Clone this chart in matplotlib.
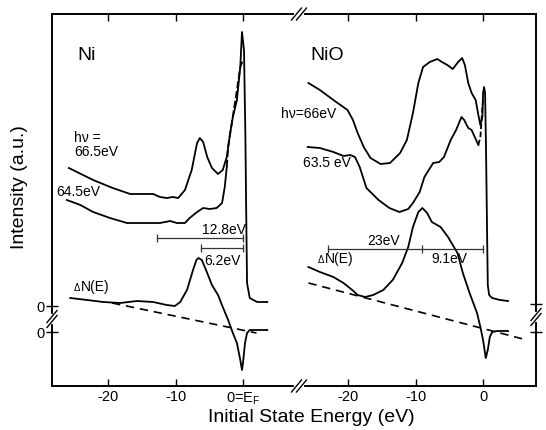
import numpy as np
import matplotlib
matplotlib.use("Agg")
import matplotlib.pyplot as plt
from matplotlib.lines import Line2D

plt.rcParams['font.family'] = ['Liberation Sans', 'DejaVu Sans']
plt.rcParams['mathtext.fontset'] = 'custom'
plt.rcParams['mathtext.rm'] = 'Liberation Sans'
plt.rcParams['mathtext.it'] = 'Liberation Sans:italic'

# ---- data (energy in eV, intensity in a.u.) ----
# Ni, h nu = 66.5 eV
ni_665_e = [-25.8, -22.2, -19.3, -16.7, -13.3, -12.3, -11.3, -10.4, -9.6, -8.6,
            -7.6, -7.1, -6.8, -6.4, -5.9, -5.3, -4.6, -3.7, -3.0, -2.4, -1.9,
            -1.5, -0.9, -0.4, -0.15, 0.15, 0.35, 0.5, 0.6, 1.0, 2.1, 3.6]
ni_665_i = [13.7, 12.5, 11.7, 11.1, 11.1, 10.8, 10.7, 10.8, 10.7, 11.5,
            13.5, 15.2, 16.2, 16.7, 16.3, 14.8, 13.7, 13.1, 13.5, 14.8, 17.2,
            18.8, 20.5, 23.8, 27.3, 25.5, 17.2, 8.0, 2.2, 0.7, 0.3, 0.3]
# Ni, h nu = 64.5 eV
ni_645_e = [-26.1, -24.1, -22.2, -19.7, -17.2, -14.2, -12.3, -10.8, -9.8, -8.6,
            -7.9, -6.8, -5.9, -4.9, -3.9, -3.1, -2.7, -2.4]
ni_645_i = [10.5, 10.0, 9.3, 8.7, 8.2, 8.2, 8.2, 8.4, 8.2, 8.2,
            8.7, 9.3, 9.7, 9.6, 9.7, 10.2, 11.8, 13.8]
ni_645_dash_e = [-2.4, -2.2, -0.9, -0.4, 0.0]
ni_645_dash_i = [13.8, 15.8, 21.5, 23.8, 24.5]
# Ni, difference spectrum
ni_dn_e = [-25.6, -23.1, -20.7, -18.2, -15.7, -13.3, -11.3, -10.1, -9.3, -8.3,
           -7.4, -6.9, -6.6, -6.1, -5.3, -4.6, -3.7, -3.0, -2.2, -1.5, -0.9,
           -0.4, -0.15, 0.0, 0.3, 0.6, 1.0, 2.5, 3.6]
ni_dn_i = [3.4, 3.2, 3.0, 2.9, 3.1, 3.0, 2.7, 2.6, 3.0, 4.2,
           6.2, 7.2, 7.4, 7.2, 5.9, 4.7, 3.7, 2.5, 1.2, -0.1, -1.1,
           -2.8, -3.8, -3.1, -1.1, -0.1, 0.2, 0.2, 0.2]
ni_base_e = [-19.4, 2.0]
ni_base_i = [2.9, -0.1]

# NiO, h nu = 66 eV
nio_66_e = [-25.9, -24.2, -22.2, -20.1, -19.3, -18.6, -17.7, -16.7, -15.2, -13.8,
            -12.3, -11.3, -10.4, -9.6, -8.9, -7.9, -6.8, -6.1, -5.3, -4.5,
            -3.7, -3.1, -2.7, -2.2, -1.7, -1.1, -0.7, -0.4, -0.1, 0.0,
            0.15, 0.3, 0.45, 0.6, 0.7, 0.9, 1.35, 2.5, 3.7]
nio_66_i = [22.2, 21.5, 20.5, 19.5, 18.5, 17.2, 15.8, 14.7, 14.1, 14.2,
            15.2, 16.5, 19.2, 22.2, 23.8, 24.3, 24.6, 24.3, 24.0, 23.6,
            24.3, 24.7, 24.0, 22.2, 21.2, 20.5, 19.0, 18.0, 18.8, 21.2,
            21.8, 21.2, 15.0, 7.0, 2.0, 1.0, 0.7, 0.5, 0.4]
# NiO, h nu = 63.5 eV
nio_635_e = [-26.0, -24.2, -22.2, -20.7, -19.7, -19.0, -18.3, -17.3, -15.5, -13.9,
             -12.4, -11.1, -10.4, -9.4, -8.7, -7.4, -6.5, -5.8, -4.8, -4.0,
             -3.2, -2.8, -2.2, -1.7, -1.1, -0.7]
nio_635_i = [15.8, 15.7, 15.3, 14.9, 15.0, 14.8, 13.8, 11.7, 10.5, 9.7,
             9.3, 9.6, 10.2, 11.3, 12.8, 14.2, 14.3, 14.8, 16.5, 17.5,
             18.8, 18.5, 17.7, 17.5, 16.6, 16.0]
nio_635_dash_e = [-0.7, -0.4, -0.1, 0.0]
nio_635_dash_i = [16.0, 16.8, 19.8, 20.5]
# NiO, difference spectrum
nio_dn_e = [-25.9, -24.2, -22.2, -20.7, -19.4, -18.6, -17.5, -16.3, -14.8, -13.4,
            -12.0, -11.1, -10.4, -9.6, -9.0, -8.3, -7.6, -6.3, -5.2, -3.8,
            -3.0, -2.0, -0.9, -0.4, 0.0, 0.4, 0.7, 1.0, 1.35, 2.1, 3.7]
nio_dn_i = [6.5, 6.0, 5.5, 4.9, 4.2, 3.7, 3.5, 3.7, 4.2, 5.2,
            6.9, 8.5, 10.5, 12.0, 12.4, 11.9, 11.0, 10.5, 9.5, 7.9,
            5.9, 3.9, 1.9, 0.5, -0.8, -2.6, -1.8, -0.5, 0.0, 0.1, 0.1]
nio_base_e = [-25.9, 6.5]
nio_base_i = [4.9, -0.8]

# offset of the photoemission spectra above the difference curves
spec_offset = 2.7

# energy separations marked in the figure
ni_bars = [(-12.8, 0.0), (-6.2, 0.0)]
nio_bar = [-23.0, -9.1, 0.0]

xticks = [-20, -10, 0]
ni_xticklabels = ['-20', '-10', r'0=E$_\mathrm{F}$']
nio_xticklabels = ['-20', '-10', '0']

W, H = 546, 430
fig = plt.figure(figsize=(W / 100, H / 100), dpi=100)
ax1 = fig.add_axes([52 / W, 44 / H, 247 / W, 372 / H])
ax2 = fig.add_axes([299 / W, 44 / H, 237 / W, 372 / H])

lw = 1.3
for ax in (ax1, ax2):
    ax.set_ylim(-5.4, 31.8)
    for sp in ax.spines.values():
        sp.set_linewidth(1.4)
    ax.tick_params(axis='x', direction='in', top=True, bottom=True,
                   length=5, width=1.0, labelsize=10.5, pad=3)
    ax.set_xticks(xticks)

ax1.set_xlim(-28.3, 8.3)
ax2.set_xlim(-27.3, 7.85)
ax1.spines['right'].set_visible(False)
ax2.spines['left'].set_visible(False)
ax1.set_xticklabels(ni_xticklabels)
ax2.set_xticklabels(nio_xticklabels)

ax1.set_yticks([0, 2.6])
ax1.set_yticklabels(['0', '0'])
ax1.tick_params(axis='y', direction='inout', length=9, width=1.0,
                labelsize=10.5, pad=1)
ax2.yaxis.tick_right()
ax2.set_yticks([0, 2.8])
ax2.tick_params(axis='y', direction='inout', length=9, width=1.0,
                labelright=False, right=True, left=False)

# ---- Ni panel ----
ax1.plot(ni_665_e, np.array(ni_665_i) + spec_offset, color='k', lw=lw)
ax1.plot(ni_645_e, np.array(ni_645_i) + spec_offset, color='k', lw=lw)
ax1.plot(ni_645_dash_e, np.array(ni_645_dash_i) + spec_offset, color='k',
         lw=lw, dashes=(4, 1.5))
ax1.plot(ni_dn_e, ni_dn_i, color='k', lw=lw)
ax1.plot(ni_base_e, ni_base_i, color='k', lw=1.2, dashes=(5, 3.5))

ax1.plot(ni_bars[0], [9.4, 9.4], color='#333333', lw=0.9,
         marker='|', ms=6, mew=0.9)
ax1.plot(ni_bars[1], [8.4, 8.4], color='#333333', lw=0.9,
         marker='|', ms=6, mew=0.9)

ax1.text(-23.1, 27.7, 'Ni', fontsize=14, ha='center', va='center')
ax1.text(-25.0, 18.7, 'h\u03bd =\n66.5eV', fontsize=10, ha='left',
         va='center', linespacing=1.0)
ax1.text(-27.6, 14.0, '64.5eV', fontsize=10, ha='left', va='center')
ax1.text(-6.1, 10.2, '12.8eV', fontsize=10, ha='left', va='center')
ax1.text(-5.8, 7.1, '6.2eV', fontsize=10, ha='left', va='center')
ax1.text(-24.0, 4.5, 'N(E)', fontsize=10, ha='left', va='center')
ax1.annotate('\u0394', xy=(-24.0, 4.5), xytext=(-0.5, -1),
             textcoords='offset points', fontsize=7, ha='right', va='center')

# ---- NiO panel ----
ax2.plot(nio_66_e, np.array(nio_66_i) + spec_offset, color='k', lw=lw)
ax2.plot(nio_635_e, np.array(nio_635_i) + spec_offset, color='k', lw=lw)
ax2.plot(nio_635_dash_e, np.array(nio_635_dash_i) + spec_offset, color='k',
         lw=lw, dashes=(3, 1.5))
ax2.plot(nio_dn_e, nio_dn_i, color='k', lw=lw)
ax2.plot(nio_base_e, nio_base_i, color='k', lw=1.2, dashes=(5, 3.5))

ax2.plot(nio_bar, [8.3] * 3, color='#333333', lw=0.9,
         marker='|', ms=6, mew=0.9)

ax2.text(-23.1, 27.7, 'NiO', fontsize=14, ha='center', va='center')
ax2.text(-30.0, 21.8, 'h\u03bd=66eV', fontsize=10, ha='left', va='center')
ax2.text(-26.7, 16.9, '63.5 eV', fontsize=10, ha='left', va='center')
ax2.text(-14.7, 9.1, '23eV', fontsize=10, ha='center', va='center')
ax2.text(-7.6, 7.3, '9.1eV', fontsize=10, ha='left', va='center')
ax2.text(-23.4, 7.3, 'N(E)', fontsize=10, ha='left', va='center')
ax2.annotate('\u0394', xy=(-23.4, 7.3), xytext=(-0.5, -1),
             textcoords='offset points', fontsize=7, ha='right', va='center')


# ---- axis break marks (figure pixel positions) ----
def px(x, y):
    return x / W, 1 - y / H


def break_marks(xc, yc, horizontal):
    if horizontal:
        gap = [(xc - 3, yc), (xc + 3, yc)]
        offs = [(-2.5, 0), (2.5, 0)]
    else:
        gap = [(xc, yc - 3), (xc, yc + 3)]
        offs = [(0, -2.5), (0, 2.5)]
    (x0, y0), (x1, y1) = px(*gap[0]), px(*gap[1])
    fig.add_artist(Line2D([x0, x1], [y0, y1], color='white', lw=3,
                          transform=fig.transFigure))
    for dx, dy in offs:
        a = px(xc + dx - 5, yc + dy + 6)
        b = px(xc + dx + 5, yc + dy - 6)
        fig.add_artist(Line2D([a[0], b[0]], [a[1], b[1]], color='k', lw=1.0,
                              transform=fig.transFigure))


break_marks(299, 14, True)
break_marks(299, 386, True)
break_marks(52, 319, False)
break_marks(536, 317, False)

fig.text(20 / W, 1 - 187 / H, 'Intensity (a.u.)', rotation=90,
         fontsize=14, ha='center', va='center')
fig.text(311 / W, 1 - 418 / H, 'Initial State Energy (eV)',
         fontsize=14, ha='center', va='center')

fig.savefig('out.png', dpi=100)
